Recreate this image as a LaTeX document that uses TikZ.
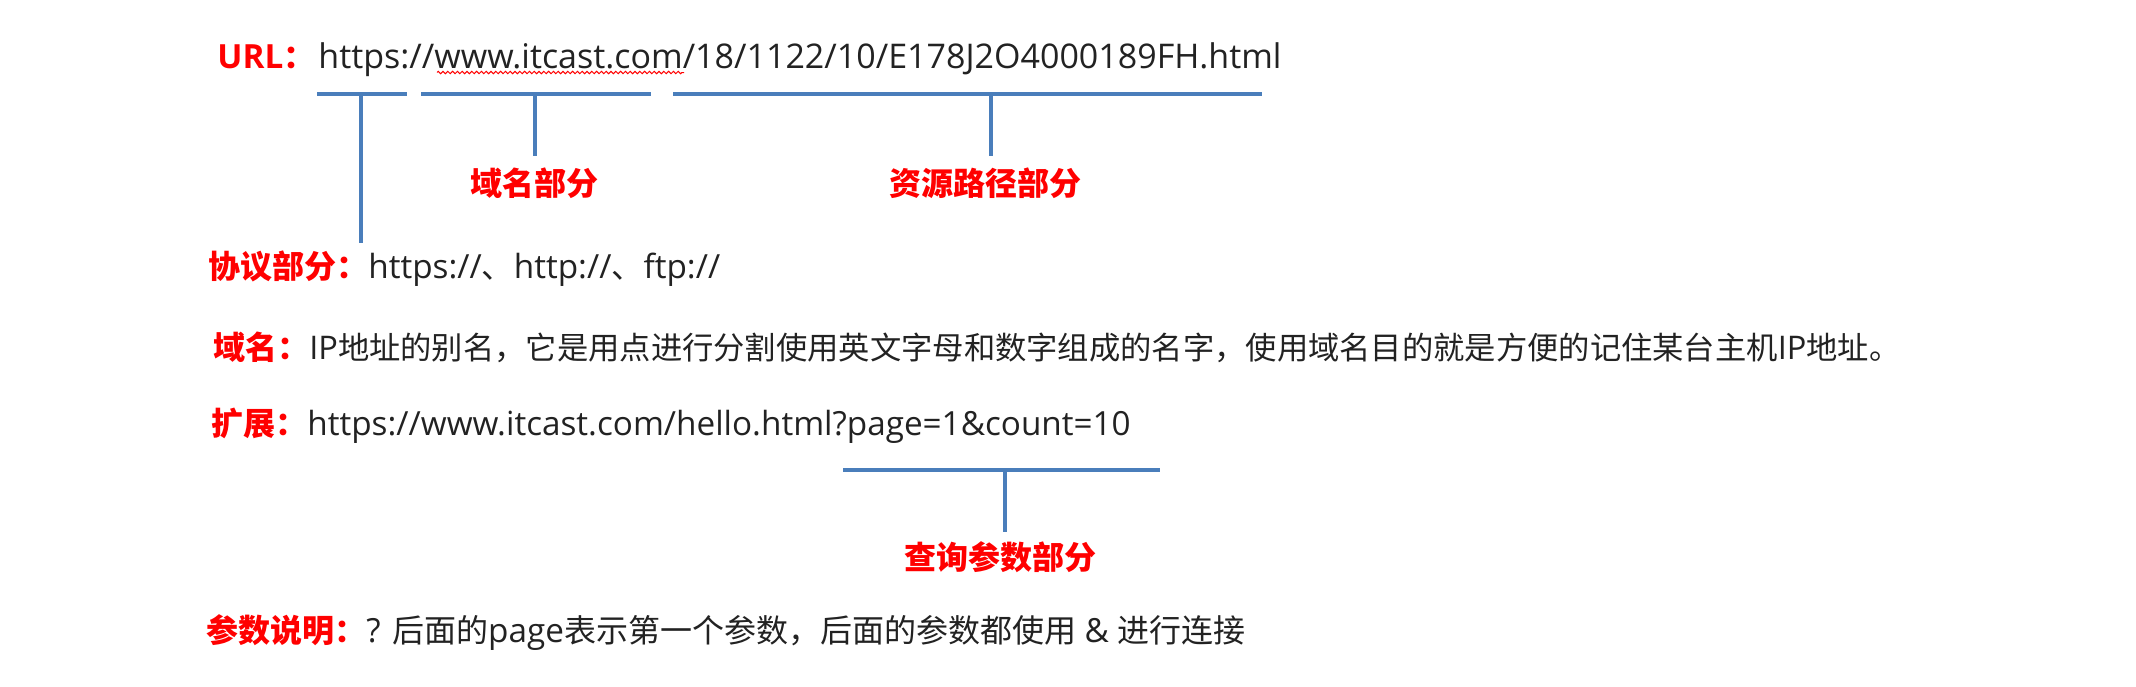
\documentclass[tikz,border=0pt]{standalone}
\usepackage{fontspec}
\setmainfont{Open Sans}[Scale=1.04]
\newfontfamily\cjk{Noto Sans CJK SC}
\usetikzlibrary{decorations.pathmorphing}
\definecolor{bracketblue}{RGB}{74,126,187}
\definecolor{txtgray}{RGB}{34,34,34}
\tikzset{
  redlabel/.style={font=\fontsize{16pt}{19pt}\selectfont\bfseries, text=red, inner sep=0pt},
  bodytext/.style={font=\fontsize{16pt}{19pt}\selectfont, text=txtgray, inner sep=0pt, anchor=base west},
  bar/.style={draw=bracketblue, line width=2pt},
  stem/.style={draw=bracketblue, line width=1.6pt},
  squiggle/.style={draw=red, line width=0.5pt, decorate, decoration={zigzag, amplitude=0.6pt, segment length=2.4pt}}
}
\begin{document}
\begin{tikzpicture}[x=0.5pt,y=-0.5pt]
\useasboundingbox (0,0) rectangle (2136,686);

% line 1: URL
\node[redlabel, anchor=base west] (urllabel) at (217,68) {URL{\cjk ：}};
\node[bodytext, font=\fontsize{16.35pt}{19pt}\selectfont] (url) at (318,68) {https://www.itcast.com/18/1122/10/E178J2O4000189FH.html};
\coordinate (sqa) at (437,72.5);
\coordinate (sqb) at (684,72.5);
\draw[squiggle] (sqa) -- (sqb);

% brackets under URL
\coordinate (p1a) at (317,94); \coordinate (p1b) at (407,94);
\coordinate (p1m) at (361,94); \coordinate (p1e) at (361,243);
\coordinate (p2a) at (421,94); \coordinate (p2b) at (651,94);
\coordinate (p2m) at (535,94); \coordinate (p2e) at (535,156);
\coordinate (p3a) at (673,94); \coordinate (p3b) at (1262,94);
\coordinate (p3m) at (991,94); \coordinate (p3e) at (991,156);
\draw[bar] (p1a) -- (p1b);
\draw[bar] (p2a) -- (p2b);
\draw[bar] (p3a) -- (p3b);
\draw[stem] (p1m) -- (p1e);
\draw[stem] (p2m) -- (p2e);
\draw[stem] (p3m) -- (p3e);

\node[redlabel] (domainpart) at (534,183) {\cjk 域名部分};
\node[redlabel] (pathpart) at (985,183) {\cjk 资源路径部分};

% line 2: protocol
\node[redlabel, anchor=base west] (protolabel) at (208,278) {\cjk 协议部分：};
\node[bodytext] (proto) at (368,278) {https://{\cjk 、}http://{\cjk 、}ftp://};

% line 3: domain
\node[redlabel, anchor=base west] (domlabel) at (213,359) {\cjk 域名：};
\node[bodytext, font=\fontsize{15.65pt}{19pt}\selectfont] (dom) at (309,359) {IP{\cjk 地址的别名，它是用点进行分割使用英文字母和数字组成的名字，使用域名目的就是方便的记住某台主机}IP{\cjk 地址。}};

% line 4: extension
\node[redlabel, anchor=base west] (extlabel) at (211,435) {\cjk 扩展：};
\node[bodytext] (ext) at (307,435) {https://www.itcast.com/hello.html?page=1\&count=10};

% query bracket
\coordinate (q1a) at (843,470); \coordinate (q1b) at (1160,470);
\coordinate (q1m) at (1005,470); \coordinate (q1e) at (1005,532);
\draw[bar] (q1a) -- (q1b);
\draw[stem] (q1m) -- (q1e);
\node[redlabel] (querypart) at (1000,557) {\cjk 查询参数部分};

% line 5: params
\node[redlabel, anchor=base west] (paramlabel) at (206,642) {\cjk 参数说明：};
\node[bodytext] (param) at (366,642) {? {\cjk 后面的}page{\cjk 表示第一个参数，后面的参数都使用} \& {\cjk 进行连接}};
\end{tikzpicture}
\end{document}
